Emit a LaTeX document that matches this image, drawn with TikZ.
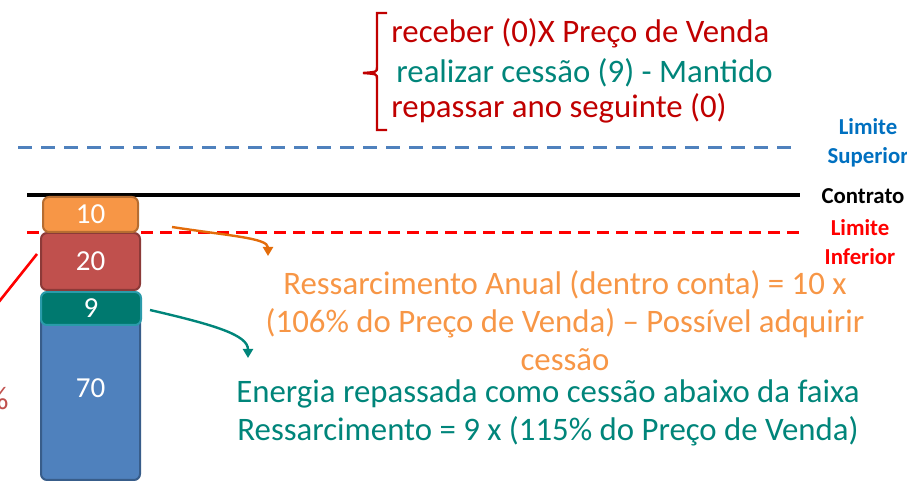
\documentclass[tikz,border=0pt]{standalone}
\usepackage{fontspec}
\setmainfont{Carlito}
\usetikzlibrary{arrows.meta}
\definecolor{limblue}{HTML}{4F81BD}
\definecolor{supblue}{HTML}{0070C0}
\definecolor{bluefill}{HTML}{4F81BD}
\definecolor{blueedge}{HTML}{385D8A}
\definecolor{tealfill}{HTML}{00796F}
\definecolor{tealedge}{HTML}{2A9BAA}
\definecolor{redfill}{HTML}{C0504D}
\definecolor{rededge}{HTML}{8C3A38}
\definecolor{orangefill}{HTML}{F79646}
\definecolor{orangeedge}{HTML}{B66D31}
\definecolor{txtorange}{HTML}{F79646}
\definecolor{arroworange}{HTML}{E36C0A}
\definecolor{txtteal}{HTML}{00857A}
\definecolor{topred}{HTML}{C00000}
\tikzset{bar/.style={rounded corners=3pt, line width=1pt, text=white, inner sep=0pt, font=\fontsize{14.5}{16}\selectfont}}
\tikzset{lim/.style={align=center, inner sep=0pt, font=\bfseries\fontsize{11.4}{14.5}\selectfont}}
\tikzset{txt/.style={align=center, inner sep=0pt, font=\fontsize{16.4}{19}\selectfont}}
\tikzset{link/.style={line width=1.2pt, -{Triangle[length=4.5pt,width=5pt]}}}
\begin{document}
\begin{tikzpicture}[x=0.5pt,y=-0.5pt]
  \useasboundingbox (0,0) rectangle (907,481);

  % limites
  \draw[color=limblue, line width=1.5pt, dash pattern=on 7pt off 4.5pt] (18,148) -- (800,148);
  \draw[color=black, line width=2pt] (27,195) -- (800,195);
  \draw[color=red, line width=1.5pt, dash pattern=on 6pt off 3.5pt] (27,233) -- (800,233);
  \node[lim, text=supblue] (limsup) at (868,143) {Limite\\Superior};
  \node[lim, text=black] (contrato) at (863,196) {Contrato};
  \node[lim, text=red] (liminf) at (860,242) {Limite\\Inferior};

  % barra
  \node[bar, fill=bluefill, draw=blueedge, minimum width=49.5pt, minimum height=92pt] (b70) at (90.5,388) {70};
  \node[bar, fill=tealfill, draw=tealedge, minimum width=50pt, minimum height=16.5pt] (b9) at (91,308.5) {9};
  \node[bar, fill=redfill, draw=rededge, minimum width=49.5pt, minimum height=28.5pt] (b20) at (90.5,261.5) {20};
  \node[bar, fill=orangefill, draw=orangeedge, minimum width=47.5pt, minimum height=17.5pt] (b10) at (90.5,214.5) {10};

  \coordinate (redin) at (-10,313);
  \coordinate (redtip) at (37,254);
  \draw[color=red, line width=1.3pt] (redin) -- (redtip);
  \node[txt, text=redfill, anchor=east] (pct) at (9,398) {\%};

  % textos
  \node[txt, text=txtorange] (anual) at (565,321) {Ressarcimento Anual (dentro conta) = 10 x\\(106\% do Preço de Venda) – Possível adquirir\\cessão};
  \node[txt, text=txtteal] (energia) at (548,413) {Energia repassada como cessão abaixo da faixa\\Ressarcimento = 9 x (115\% do Preço de Venda)};

  \node[txt, text=topred, anchor=west] (receber) at (391,33) {receber (0)X Preço de Venda};
  \node[txt, text=txtteal, anchor=west] (realizar) at (396,73) {realizar cessão (9) - Mantido};
  \node[txt, text=topred, anchor=west] (repassar) at (391,108) {repassar ano seguinte (0)};
  \draw[color=topred, line width=1.2pt] (387,13) -- (377,13) -- (377,67) .. controls (377,72) .. (363,73)
    .. controls (377,74) .. (377,79) -- (377,130) -- (387,130);

  % setas
  \coordinate (ostart) at (172,227);
  \coordinate (oend) at (268,256);
  \draw[link, color=arroworange] (ostart) .. controls (230,236) and (268,238) .. (oend);
  \coordinate (tstart) at (150,310);
  \coordinate (tend) at (248,358);
  \draw[link, color=txtteal] (tstart) .. controls (215,325) and (248,335) .. (tend);
\end{tikzpicture}
\end{document}
